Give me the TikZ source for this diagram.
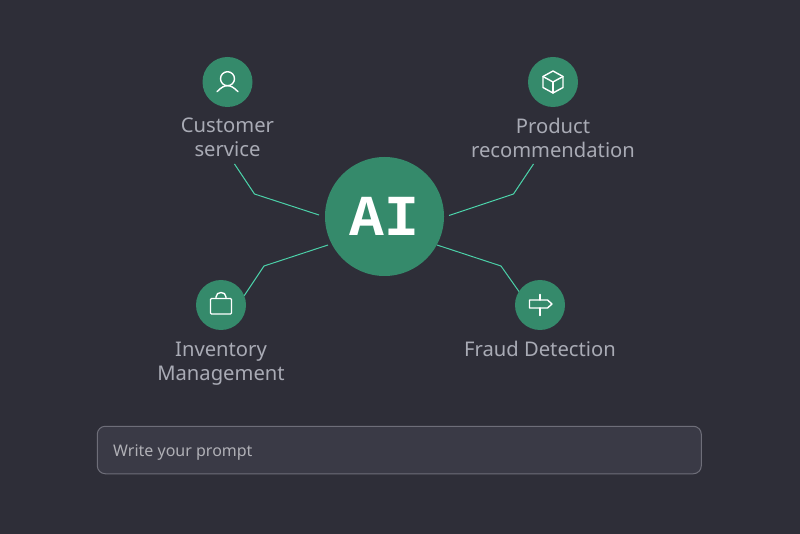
\documentclass[tikz,border=0pt]{standalone}
\usepackage{fontspec}
\setmainfont{Noto Sans}
\newfontfamily\promptfont{Noto Sans}
\newfontfamily\aifont{Liberation Mono}
\definecolor{bgc}{HTML}{2E2E38}
\definecolor{greenc}{HTML}{358A6B}
\definecolor{linec}{HTML}{4BD0A8}
\definecolor{labelc}{HTML}{A9ABB5}
\definecolor{boxc}{HTML}{3A3A46}
\definecolor{boxline}{HTML}{6E6E79}
\definecolor{promptc}{HTML}{B0B0B6}
\tikzset{
  hub/.style={circle,fill=greenc,minimum size=119pt,inner sep=0pt,text=white,font=\aifont\bfseries\fontsize{58}{58}\selectfont},
  spoke/.style={circle,fill=greenc,minimum size=50pt,inner sep=0pt},
  lbl/.style={text=labelc,align=center,font=\fontsize{20.2}{24}\selectfont,inner sep=0pt},
  wire/.style={draw=linec,line width=1pt,line join=round},
  icon/.style={draw=white,line width=1.4pt,line join=round,line cap=round,fill=none},
}
\begin{document}
\begin{tikzpicture}[x=1pt,y=-1pt]
\useasboundingbox (0,0) rectangle (800,534);
\fill[bgc] (0,0) rectangle (800,534);
% connector ends
\coordinate (c1) at (234.5,164); \coordinate (c2) at (254.5,194); \coordinate (c3) at (319,215);
\coordinate (p1) at (533.5,164); \coordinate (p2) at (513.5,194); \coordinate (p3) at (449,215.5);
\coordinate (i1) at (328,245); \coordinate (i2) at (264,266); \coordinate (i3) at (244,296);
\coordinate (f1) at (437,245); \coordinate (f2) at (501,266); \coordinate (f3) at (520,293);
\draw[wire] (c1) -- (c2) -- (c3);
\draw[wire] (p1) -- (p2) -- (p3);
\draw[wire] (i1) -- (i2) -- (i3);
\draw[wire] (f1) -- (f2) -- (f3);
% nodes
\node[hub] (ai) at (384.5,216.5) {AI};
\node[spoke] (cust) at (227.5,82) {};
\node[spoke] (prod) at (553,82) {};
\node[spoke] (inv) at (221,305) {};
\node[spoke] (fraud) at (540,305) {};
% labels
\node[lbl] (custl) at (227.5,137.5) {Customer\\service};
\node[lbl] (prodl) at (553,137.5) {Product\\recommendation};
\node[lbl] (invl) at (221,363.5) {Inventory\\Management};
\node[lbl] (fraudl) at (540,349) {Fraud Detection};
% icons
\begin{scope}[shift={(cust.center)}]
  \draw[icon] (0,-3.3) circle (7);
  \draw[icon] (-10.5,9.7) .. controls (-6,5) and (-3,3.7) .. (0,3.7) .. controls (3,3.7) and (6,5) .. (10.5,9.7);
\end{scope}
\begin{scope}[shift={(prod.center)}]
  \draw[icon] (0,-11) -- (10,-5.5) -- (10,5.5) -- (0,11) -- (-10,5.5) -- (-10,-5.5) -- cycle;
  \draw[icon] (-10,-5.5) -- (0,0) -- (10,-5.5);
  \draw[icon] (0,0) -- (0,11);
\end{scope}
\begin{scope}[shift={(inv.center)}]
  \draw[icon,rounded corners=1pt] (-10.5,-6.5) rectangle (10.5,9);
  \draw[icon] (-5,-6.5) -- (-5,-8) .. controls (-5,-14) and (5,-14) .. (5,-8) -- (5,-6.5);
\end{scope}
\begin{scope}[shift={(fraud.center)}]
  \draw[icon] (-10.5,-5) -- (7.5,-5) -- (12,-1) -- (7.5,3) -- (-10.5,3) -- cycle;
  \draw[icon] (0,-10.5) -- (0,-5);
  \draw[icon] (0,3) -- (0,10.5);
\end{scope}
% prompt
\node[draw=boxline,fill=boxc,line width=1pt,rounded corners=8pt,minimum width=604pt,minimum height=47.5pt,inner sep=0pt] (box) at (399.3,450) {};
\node[anchor=base west,text=promptc,inner sep=0pt,font=\promptfont\fontsize{16}{18}\selectfont] (prompt) at (113,456) {Write your prompt};
\end{tikzpicture}
\end{document}
